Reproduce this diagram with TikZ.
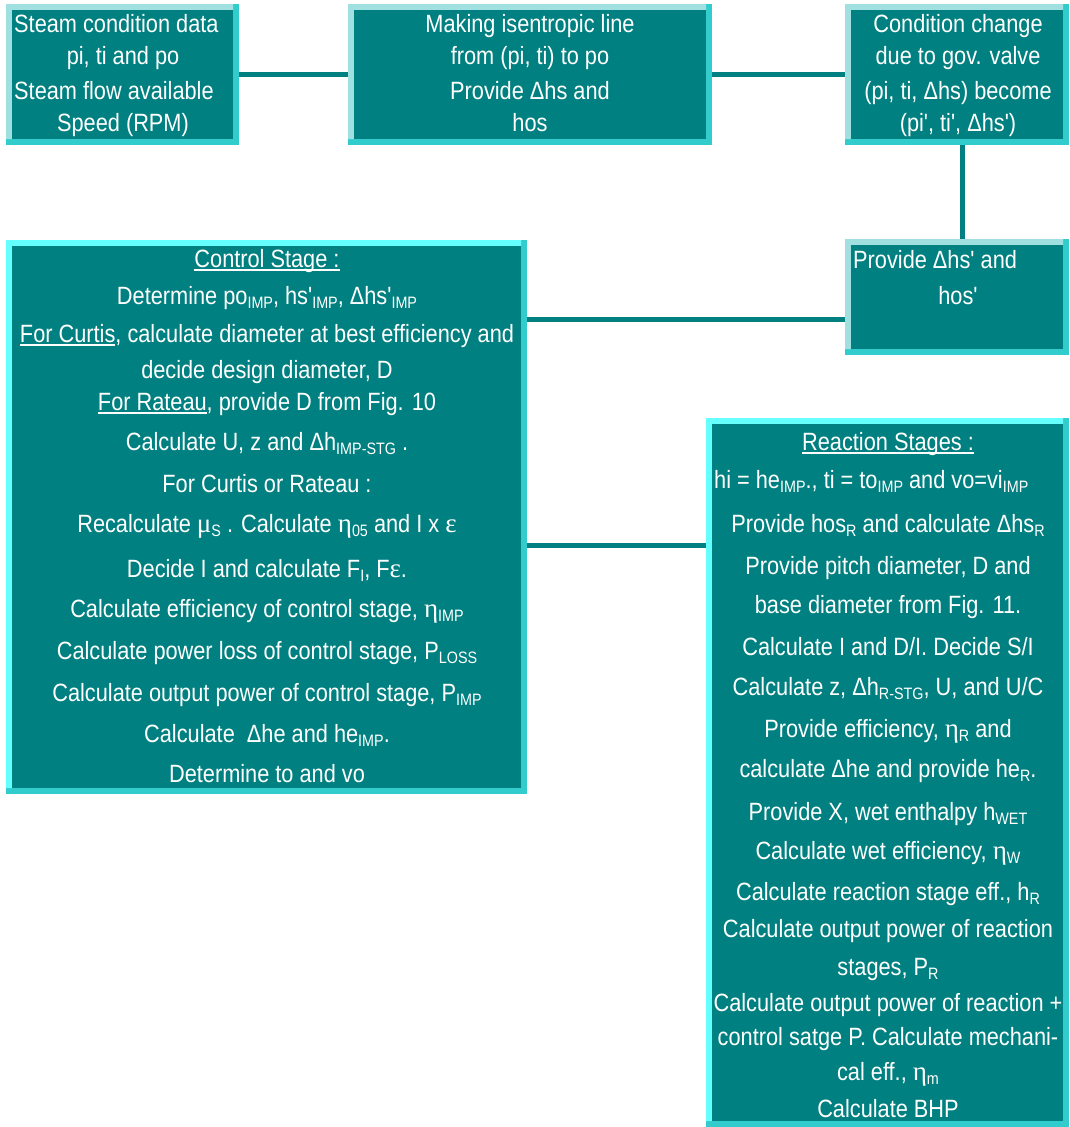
\documentclass[tikz,border=0pt]{standalone}
\usepackage{fontspec}
\setmainfont[FakeStretch=0.87,Ligatures=TeXOff]{Liberation Sans}
\newfontfamily\grk[Ligatures=TeXOff]{Liberation Serif}
\usetikzlibrary{fit,calc}
\definecolor{tealc}{HTML}{008080}
\definecolor{rbc}{HTML}{33CCCC}
\definecolor{lta}{HTML}{A0E0E0}
\definecolor{ltb}{HTML}{66FFFF}
\newcommand\sbs[1]{\raisebox{-4.5pt}{\fontsize{16.5}{16.5}\selectfont #1}}
\newcommand\myul[1]{\setbox0\hbox{#1}\rlap{\rule[-4pt]{\wd0}{1.6pt}}\box0}
\newcommand\gk[1]{{\grk\fontsize{27}{27}\selectfont #1}}
\newcommand\mybox[6]{%
  \fill[rbc] (#2,#3) rectangle (#4,#5);
  \fill[#6] (#2,#3) -- (#4-6,#3) -- (#4-6,#3+6) -- (#2+6,#3+6) -- (#2+6,#5-6) -- (#2,#5-6) -- cycle;
  \fill[tealc] (#2+6,#3+6) rectangle (#4-6,#5-6);
  \node[fit={(#2,#3) (#4,#5)}, inner sep=0pt] (#1) {};
}
\tikzset{
  txt/.style={text=white, font=\fontsize{25}{25}\selectfont, inner sep=0pt, anchor=base},
  txtl/.style={txt, anchor=base west},
  conn/.style={draw=tealc, line width=5pt}
}
\begin{document}
\begin{tikzpicture}[x=1pt,y=-1pt]
\useasboundingbox[fill=white] (0,0) rectangle (1070,1127);
\mybox{b1}{6}{4}{239}{145}{lta}
\mybox{b2}{348}{4}{712}{145}{lta}
\mybox{b3}{845}{4}{1069}{145}{lta}
\mybox{b4}{845}{239}{1069}{355}{lta}
\mybox{ctrl}{6}{240}{527}{794}{ltb}
\mybox{react}{706}{418}{1069}{1127}{ltb}

% connectors
\coordinate (ya) at (0,319);
\coordinate (yb) at (0,545);
\draw[conn] (b1.east) -- (b2.west);
\draw[conn] (b2.east) -- (b3.west);
\draw[conn] ($(b3.south)+(5pt,0)$) -- ($(b4.north)+(5pt,0)$);
\draw[conn] (b4.west |- ya) -- (ctrl.east |- ya);
\draw[conn] (ctrl.east |- yb) -- (react.west |- yb);

% box 1
\node[txtl] (a1) at (14,32) {Steam condition data};
\node[txt]  (a2) at (123,64) {pi, ti and po};
\node[txtl] (a3) at (14,99) {Steam flow available};
\node[txt]  (a4) at (123,131) {Speed (RPM)};
% box 2
\node[txt] (m1) at (530,32) {Making isentropic line};
\node[txt] (m2) at (530,64) {from (pi, ti) to po};
\node[txt] (m3) at (530,99) {Provide Δhs and};
\node[txt] (m4) at (530,131) {hos};
% box 3
\node[txt] (c1) at (958,32) {Condition change};
\node[txt] (c2) at (958,64) {due to gov. valve};
\node[txt] (c3) at (958,99) {(pi, ti, Δhs) become};
\node[txt] (c4) at (958,131) {(pi', ti', Δhs')};
% box 4
\node[txtl] (p1) at (853,268) {Provide Δhs' and};
\node[txt]  (p2) at (958,304) {hos'};
% control stage
\node[txt] (s1)  at (267,267) {\myul{Control Stage :}};
\node[txt] (s2)  at (267,304) {Determine po\sbs{IMP}, hs'\sbs{IMP}, Δhs'\sbs{IMP}};
\node[txt] (s3)  at (267,342) {\myul{For Curtis}, calculate diameter at best efficiency and};
\node[txt] (s4)  at (267,378) {decide design diameter, D};
\node[txt] (s5)  at (267,410) {\myul{For Rateau}, provide D from Fig. 10};
\node[txt] (s6)  at (267,450) {Calculate U, z and Δh\sbs{IMP-STG} .};
\node[txt] (s7)  at (267,492) {For Curtis or Rateau :};
\node[txt] (s8)  at (267,532) {Recalculate \gk{μ}\sbs{S} . Calculate \gk{η}\sbs{05} and I x \gk{ε}};
\node[txt] (s9)  at (267,577) {Decide I and calculate F\sbs{I}, F\gk{ε}.};
\node[txt] (s10) at (267,617) {Calculate efficiency of control stage, \gk{η}\sbs{IMP}};
\node[txt] (s11) at (267,659) {Calculate power loss of control stage, P\sbs{LOSS}};
\node[txt] (s12) at (267,701) {Calculate output power of control stage, P\sbs{IMP}};
\node[txt] (s13) at (267,742) {Calculate \ Δhe and he\sbs{IMP}.};
\node[txt] (s14) at (267,782) {Determine to and vo};
% reaction stages
\node[txt]  (r1)  at (888,450) {\myul{Reaction Stages :}};
\node[txtl] (r2)  at (714,488) {hi = he\sbs{IMP}., ti = to\sbs{IMP} and vo=vi\sbs{IMP}};
\node[txt]  (r3)  at (888,532) {Provide hos\sbs{R} and calculate Δhs\sbs{R}};
\node[txt]  (r4)  at (888,574) {Provide pitch diameter, D and};
\node[txt]  (r5)  at (888,613) {base diameter from Fig. 11.};
\node[txt]  (r6)  at (888,655) {Calculate I and D/I. Decide S/I};
\node[txt]  (r7)  at (888,695) {Calculate z, Δh\sbs{R-STG}, U, and U/C};
\node[txt]  (r8)  at (888,737) {Provide efficiency, \gk{η}\sbs{R} and};
\node[txt]  (r9)  at (888,777) {calculate Δhe and provide he\sbs{R}.};
\node[txt]  (r10) at (888,820) {Provide X, wet enthalpy h\sbs{WET}};
\node[txt]  (r11) at (888,859) {Calculate wet efficiency, \gk{η}\sbs{W}};
\node[txt]  (r12) at (888,900) {Calculate reaction stage eff., h\sbs{R}};
\node[txt]  (r13) at (888,937) {Calculate output power of reaction};
\node[txt]  (r14) at (888,975) {stages, P\sbs{R}};
\node[txt]  (r15) at (888,1011) {Calculate output power of reaction +};
\node[txt]  (r16) at (888,1045) {control satge P. Calculate mechani-};
\node[txt]  (r17) at (888,1080) {cal eff., \gk{η}\sbs{m}};
\node[txt]  (r18) at (888,1117) {Calculate BHP};
\end{tikzpicture}
\end{document}
